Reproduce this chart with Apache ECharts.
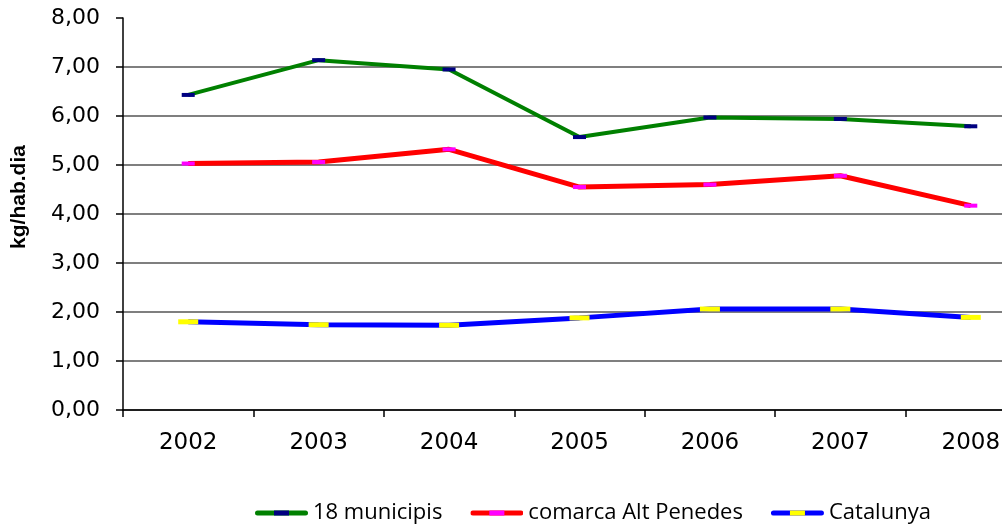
<!DOCTYPE html>
<html>
<head>
<meta charset="utf-8">
<script src="https://cdn.jsdelivr.net/npm/echarts@6/dist/echarts.min.js"></script>
<style>
  html, body { margin: 0; padding: 0; background: #fff; }
  #chart { width: 1002px; height: 524px; }
</style>
</head>
<body>
<div id="chart"></div>
<script>
const years = ['2002', '2003', '2004', '2005', '2006', '2007', '2008'];
const municipis = [6.43, 7.14, 6.95, 5.57, 5.97, 5.94, 5.79];
const comarca = [5.03, 5.06, 5.32, 4.55, 4.60, 4.78, 4.17];
const catalunya = [1.80, 1.74, 1.73, 1.88, 2.06, 2.06, 1.89];
const yTicks = { min: 0, max: 8, interval: 1 };

// legend icon: line with the marker colour in the middle
const legendIcon = (line, mark) => {
  const svg = '<svg xmlns="http://www.w3.org/2000/svg" width="53" height="6">' +
    '<rect x="0" y="0.5" width="53" height="5" rx="2.5" fill="' + line + '"/>' +
    '<rect x="19" y="0.5" width="15" height="5" fill="' + mark + '"/></svg>';
  return 'image://data:image/svg+xml;charset=utf-8,' + encodeURIComponent(svg);
};

const makeSeries = (name, data, color, width, mark, markSize) => ({
  name: name,
  type: 'line',
  data: data,
  symbol: 'rect',
  symbolSize: markSize,
  showSymbol: true,
  lineStyle: { color: color, width: width },
  itemStyle: { color: mark },
  emphasis: { disabled: true },
  animation: false
});

const chart = echarts.init(document.getElementById('chart'));
chart.setOption({
  animation: false,
  grid: { left: 123, top: 18, width: 913, height: 392, outerBoundsMode: 'none', containLabel: false },
  legend: {
    left: 250,
    bottom: -5,
    itemWidth: 53,
    itemHeight: 6,
    itemGap: 28,
    textStyle: { fontFamily: 'Open Sans', fontSize: 22, color: '#000' },
    data: [
      { name: '18 municipis', icon: legendIcon('#008000', '#000080') },
      { name: 'comarca Alt Penedes', icon: legendIcon('#ff0000', '#ff00ff') },
      { name: 'Catalunya', icon: legendIcon('#0000ff', '#ffff00') }
    ]
  },
  xAxis: {
    type: 'category',
    data: years,
    boundaryGap: true,
    axisLine: { lineStyle: { color: '#000', width: 1.5 } },
    axisTick: { show: true, length: 7, lineStyle: { color: '#000', width: 1.5 } },
    axisLabel: { fontFamily: 'DejaVu Sans', fontSize: 23, color: '#000', margin: 22 },
    splitLine: { show: false }
  },
  yAxis: {
    type: 'value',
    min: yTicks.min,
    max: yTicks.max,
    interval: yTicks.interval,
    name: 'kg/hab.dia',
    nameLocation: 'middle',
    nameGap: 93,
    nameRotate: 90,
    nameTextStyle: { fontFamily: 'Liberation Sans', fontWeight: 'bold', fontSize: 21, color: '#000', padding: [0, 0, 0, 34] },
    axisLine: { show: true, lineStyle: { color: '#000', width: 1.5 } },
    axisTick: { show: true, length: 7, lineStyle: { color: '#000', width: 1.5 } },
    axisLabel: {
      fontFamily: 'DejaVu Sans', fontSize: 22, color: '#000', margin: 23,
      formatter: v => v.toFixed(2).replace('.', ',')
    },
    splitLine: {
      show: true,
      showMaxLine: false,
      lineStyle: { color: '#555', width: 1.5 }
    }
  },
  series: [
    makeSeries('18 municipis', municipis, '#008000', 4, '#000080', [13, 4]),
    makeSeries('comarca Alt Penedes', comarca, '#ff0000', 5, '#ff00ff', [13, 4]),
    makeSeries('Catalunya', catalunya, '#0000ff', 5, '#ffff00', [20, 5])
  ]
});
</script>
</body>
</html>
